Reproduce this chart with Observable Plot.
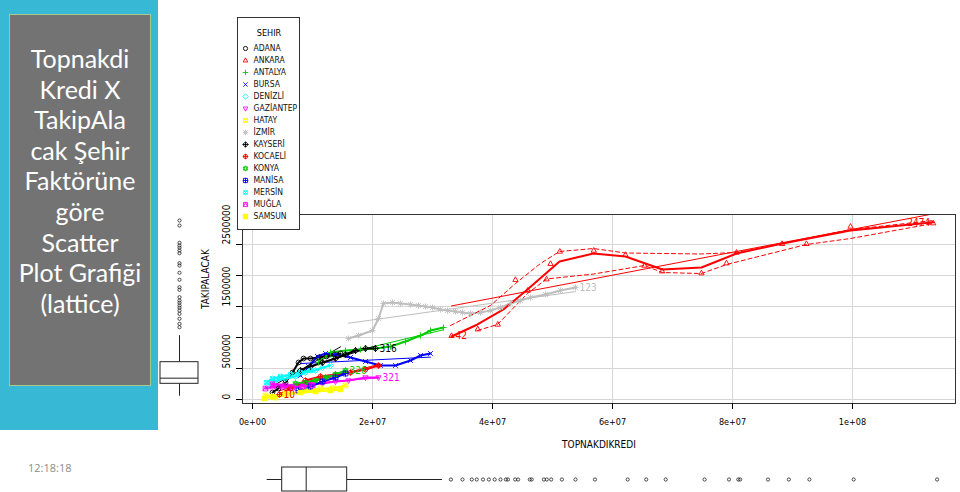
<!DOCTYPE html>
<html><head><meta charset="utf-8">
<script src="https://cdn.jsdelivr.net/npm/d3@7"></script>
<script src="https://cdn.jsdelivr.net/npm/@observablehq/plot@0.6"></script>
<style>
html,body{margin:0;padding:0;background:#fff;}
#stage{position:relative;width:960px;height:492px;overflow:hidden;}
#stage > *{position:absolute;}
#blue{left:0;top:0;width:158px;height:430px;background:#37b8d4;}
#gray{left:9px;top:14px;width:142px;height:372px;background:#737373;border:1px solid #a8c98c;box-sizing:border-box;}
#title{left:9px;top:43px;width:142px;text-align:center;color:#fff;font-family:Lato,"Open Sans",sans-serif;font-size:25px;line-height:30.6px;}
#time{left:28px;top:460px;font-size:11px;color:#8c8c8c;font-family:"Open Sans",sans-serif;}
#legend{left:237px;top:17px;width:63px;height:213px;border:1px solid #333;box-sizing:border-box;background:#fff;}
#legend svg{position:absolute;left:0;top:0;}
</style></head>
<body>
<div id="stage">
  <div id="mainplot" style="left:0;top:0"></div>
  <div id="blue"></div>
  <div id="gray"></div>
  <div id="title">Topnakdi<br>Kredi X<br>TakipAla<br>cak Şehir<br>Faktörüne<br>göre<br>Scatter<br>Plot Grafiği<br>(lattice)</div>
  <div id="time">12:18:18</div>
  <div id="ybox" style="left:160px;top:0"></div>
  <div id="xbox" style="left:0;top:460px"></div>
  <div id="legend"></div>
</div>
<script>
// ---------- data ----------
const CITIES = ["ADANA","ANKARA","ANTALYA","BURSA","DENİZLİ","GAZİANTEP","HATAY","İZMİR","KAYSERİ","KOCAELİ","KONYA","MANİSA","MERSİN","MUĞLA","SAMSUN"];
const CITY_COLORS = ["#000000","#ff0000","#00cd00","#0000ff","#00ffff","#ff00ff","#ffff00","#bebebe","#000000","#ff0000","#00cd00","#0000ff","#00ffff","#ff00ff","#ffff00"];

const ADANA = [[3.33e6,113e3],[4.33e6,177e3],[5.5e6,274e3],[6.67e6,435e3],[7.67e6,597e3],[8.5e6,661e3],[9.67e6,661e3],[11.0e6,677e3],[12.33e6,694e3],[13.67e6,726e3],[14.67e6,742e3]];
const ANKARA = [[33.17e6,1.027e6],[37.55e6,1.134e6],[40.88e6,1.21e6],[43.83e6,1.931e6],[45.88e6,1.758e6],[49.0e6,1.94e6],[49.67e6,2.189e6],[51.22e6,2.387e6],[56.88e6,2.403e6],[62.17e6,2.334e6],[65.33e6,2.161e6],[68.28e6,2.069e6],[74.83e6,2.037e6],[79.0e6,2.198e6],[80.67e6,2.371e6],[88.28e6,2.511e6],[92.33e6,2.511e6],[99.67e6,2.79e6],[113.45e6,2.844e6]];
const ANTALYA = [[11.0e6,597e3],[13.0e6,758e3],[15.5e6,790e3],[18.0e6,806e3],[20.5e6,823e3],[23.0e6,855e3],[25.5e6,935e3],[28.0e6,1032e3],[29.67e6,1113e3],[31.83e6,1161e3]];
const BURSA = [[8.0e6,387e3],[9.33e6,532e3],[10.83e6,694e3],[12.17e6,742e3],[13.83e6,726e3],[16.33e6,677e3],[18.83e6,613e3],[21.33e6,548e3],[23.83e6,548e3],[26.33e6,629e3],[28.0e6,710e3],[29.67e6,742e3]];
const DENIZLI = [[2.67e6,242e3],[3.83e6,306e3],[5.5e6,339e3],[7.17e6,371e3],[8.83e6,435e3],[10.5e6,468e3],[11.67e6,516e3],[13.0e6,548e3]];
const GAZIANTEP = [[3.33e6,258e3],[5.5e6,226e3],[7.17e6,226e3],[9.67e6,242e3],[11.67e6,258e3],[13.83e6,290e3],[16.0e6,306e3],[18.83e6,355e3],[21.0e6,355e3]];
const HATAY = [[2.17e6,65e3],[3.83e6,32e3],[6.0e6,81e3],[8.83e6,145e3],[11.33e6,177e3],[13.33e6,177e3],[15.5e6,226e3]];
const IZMIR = [[16.0e6,984e3],[17.67e6,1.032e6],[20.0e6,1.113e6],[21.0e6,1.306e6],[21.83e6,1.548e6],[23.33e6,1.565e6],[24.67e6,1.548e6],[26.33e6,1.532e6],[27.67e6,1.516e6],[28.83e6,1.5e6],[30.0e6,1.484e6],[31.33e6,1.452e6],[32.5e6,1.435e6],[33.83e6,1.419e6],[35.0e6,1.403e6],[36.33e6,1.387e6],[38.0e6,1.403e6],[39.67e6,1.435e6],[41.33e6,1.484e6],[43.0e6,1.548e6],[44.67e6,1.597e6],[46.33e6,1.645e6],[48.83e6,1.694e6],[51.33e6,1.758e6],[53.83e6,1.806e6]];
const KAYSERI = [[8.0e6,468e3],[9.67e6,532e3],[11.67e6,597e3],[13.83e6,661e3],[15.5e6,726e3],[17.17e6,790e3],[18.83e6,823e3],[20.5e6,823e3]];
const KOCAELI = [[4.5e6,81e3],[6.33e6,177e3],[8.83e6,306e3],[11.33e6,371e3],[13.83e6,403e3],[16.33e6,435e3],[18.83e6,484e3],[21.0e6,548e3]];
const KONYA = [[7.17e6,258e3],[8.83e6,274e3],[10.5e6,306e3],[12.17e6,355e3],[13.83e6,403e3],[15.5e6,468e3]];
const MANISA = [[7.67e6,145e3],[9.67e6,210e3],[11.67e6,290e3],[13.83e6,355e3],[15.5e6,419e3]];
const MERSIN = [[2.33e6,274e3],[3.33e6,339e3],[4.67e6,371e3],[6.33e6,403e3],[8.0e6,435e3],[9.67e6,468e3]];
const MUGLA = [[2.17e6,177e3],[3.33e6,210e3],[5.0e6,210e3],[6.67e6,194e3],[8.33e6,210e3],[10.0e6,226e3]];
const SAMSUN = [[2.0e6,16e3],[3.33e6,48e3],[5.5e6,97e3],[8.0e6,113e3],[10.5e6,129e3],[13.0e6,145e3],[14.67e6,161e3]];

// Ankara smoother and spread lines
const ANKARA_SMOOTH = [[33.17e6,1.016e6],[37.5e6,1.21e6],[41.83e6,1.452e6],[45.83e6,1.774e6],[51.17e6,2.226e6],[56.83e6,2.355e6],[62.17e6,2.306e6],[68.33e6,2.097e6],[74.83e6,2.129e6],[80.67e6,2.355e6],[88.33e6,2.516e6],[99.67e6,2.726e6],[113.5e6,2.86e6]];
const ANKARA_UPPER = [[33.0e6,1.194e6],[39.67e6,1.516e6],[43.83e6,1.871e6],[48.0e6,2.194e6],[51.17e6,2.387e6],[56.83e6,2.435e6],[62.17e6,2.363e6],[74.67e6,2.347e6],[80.67e6,2.371e6],[88.33e6,2.516e6],[99.67e6,2.742e6],[113.5e6,2.887e6]];
const ANKARA_LOWER = [[37.5e6,1.113e6],[40.83e6,1.21e6],[45.83e6,1.71e6],[49.0e6,1.944e6],[56.83e6,2.024e6],[65.33e6,2.161e6],[68.33e6,2.048e6],[74.83e6,2.032e6],[79.0e6,2.177e6],[92.33e6,2.5e6],[99.67e6,2.597e6],[113.5e6,2.839e6]];

// point identification labels
const ID_CITY  = ["ANKARA","ANKARA","İZMİR","KAYSERİ","GAZİANTEP","KONYA","KOCAELİ"];
const ID_INDEX = [18, 0, 24, 7, 8, 5, 0];
const ID_TEXT  = ["2474","42","123","316","321","326","10"];

// axes
const X_TICKS = [0, 2e7, 4e7, 6e7, 8e7, 1e8];
const X_TICK_LABELS = ["0e+00","2e+07","4e+07","6e+07","8e+07","1e+08"];
const Y_TICKS = [0, 5e5, 1e6, 1.5e6, 2e6, 2.5e6];
const Y_LABEL_TICKS = [0, 5e5, 1.5e6, 2.5e6];
const Y_TICK_LABELS = ["0","500000","1500000","2500000"];
const X_DOMAIN = [-1.667e6, 117.17e6];
const Y_DOMAIN = [-64.5e3, 2.984e6];

// marginal boxplots: [lower whisker, q1, median, q3, upper whisker]
const X_BOX_STATS = [2.45e6, 4.95e6, 8.95e6, 15.78e6, 31.67e6];
const X_OUTLIERS = [33.07e6,35.0e6,36.55e6,37.37e6,38.42e6,39.4e6,40.37e6,41.33e6,42.23e6,42.57e6,43.78e6,44.27e6,46.22e6,46.53e6,48.57e6,49.05e6,49.78e6,51.57e6,53.83e6,57.08e6,62.53e6,65.62e6,68.87e6,75.35e6,79.42e6,80.97e6,81.28e6,85.92e6,89.4e6,92.82e6,100.2e6,114.1e6];
const Y_BOX_STATS = [53e3, 253e3, 344e3, 602e3, 1.03e6];
const Y_OUTLIERS = [2.887e6,2.806e6,2.527e6,2.484e6,2.447e6,2.403e6,2.36e6,2.198e6,2.161e6,2.044e6,1.931e6,1.811e6,1.769e6,1.65e6,1.597e6,1.56e6,1.516e6,1.479e6,1.435e6,1.382e6,1.302e6,1.221e6,1.166e6];

// ---------- build tables ----------
const SERIES = {"ADANA":ADANA,"ANKARA":ANKARA,"ANTALYA":ANTALYA,"BURSA":BURSA,"DENİZLİ":DENIZLI,"GAZİANTEP":GAZIANTEP,"HATAY":HATAY,"İZMİR":IZMIR,"KAYSERİ":KAYSERI,"KOCAELİ":KOCAELI,"KONYA":KONYA,"MANİSA":MANISA,"MERSİN":MERSIN,"MUĞLA":MUGLA,"SAMSUN":SAMSUN};
const rows = CITIES.flatMap(c => SERIES[c].map(([x, y]) => ({city: c, x, y})));
const smoothRows = rows.filter(d => d.city !== "ANKARA")
  .concat(ANKARA_SMOOTH.map(([x, y]) => ({city: "ANKARA", x, y})));
const toRows = (arr, c) => arr.map(([x, y]) => ({city: c, x, y}));
const labelRows = ID_CITY.map((c, k) => ({city: c, x: SERIES[c][ID_INDEX[k]][0], y: SERIES[c][ID_INDEX[k]][1], text: ID_TEXT[k], left: ID_TEXT[k] === "2474"}));

// ---------- symbols (R pch 1..15) ----------
const S = f => ({draw(ctx, size) { const s = Math.sqrt(size / Math.PI); f(ctx, s); }});
function circ(c, s) { c.moveTo(s, 0); c.arc(0, 0, s, 0, 2 * Math.PI); }
function triUp(c, s) { c.moveTo(0, -1.25 * s); c.lineTo(1.1 * s, 0.7 * s); c.lineTo(-1.1 * s, 0.7 * s); c.closePath(); }
function triDown(c, s) { c.moveTo(0, 1.25 * s); c.lineTo(1.1 * s, -0.7 * s); c.lineTo(-1.1 * s, -0.7 * s); c.closePath(); }
function plus(c, s) { const k = 1.3 * s; c.moveTo(-k, 0); c.lineTo(k, 0); c.moveTo(0, -k); c.lineTo(0, k); }
function times(c, s) { const k = s; c.moveTo(-k, -k); c.lineTo(k, k); c.moveTo(-k, k); c.lineTo(k, -k); }
function sq(c, s) { c.moveTo(-s, -s); c.lineTo(s, -s); c.lineTo(s, s); c.lineTo(-s, s); c.closePath(); }
function dia(c, s) { const k = 1.3 * s; c.moveTo(0, -k); c.lineTo(k, 0); c.lineTo(0, k); c.lineTo(-k, 0); c.closePath(); }
const CITY_SYMBOLS = [
  S(circ), S(triUp), S(plus), S(times), S(dia), S(triDown),
  S((c, s) => { sq(c, s); times(c, s); }),
  S((c, s) => { plus(c, s); times(c, s); }),
  S((c, s) => { dia(c, s); plus(c, s); }),
  S((c, s) => { circ(c, s); plus(c, s); }),
  S((c, s) => { triUp(c, s); triDown(c, s); }),
  S((c, s) => { sq(c, s); plus(c, s); }),
  S((c, s) => { circ(c, s); times(c, s); }),
  S((c, s) => { sq(c, s); c.moveTo(-s, s); c.lineTo(0, -s); c.lineTo(s, s); }),
  S(sq)
];
const FILLED = new Set(["SAMSUN"]);

const FONT = '"Liberation Sans Narrow","DejaVu Sans Condensed","Liberation Sans",Arial,sans-serif';
const colorScale = {domain: CITIES, range: CITY_COLORS};
const symbolScale = {domain: CITIES, range: CITY_SYMBOLS};

// ---------- main scatter ----------
const main = Plot.plot({
  width: 960, height: 492,
  marginLeft: 242, marginRight: 5, marginTop: 214, marginBottom: 89,
  x: {domain: X_DOMAIN, axis: null},
  y: {domain: Y_DOMAIN, axis: null},
  color: colorScale, symbol: symbolScale,
  style: {fontFamily: FONT, fontSize: "10px", background: "transparent", overflow: "visible"},
  marks: [
    Plot.gridX({ticks: X_TICKS, stroke: "#d6d6d6", strokeOpacity: 1}),
    Plot.gridY({ticks: Y_TICKS, stroke: "#d6d6d6", strokeOpacity: 1}),
    Plot.linearRegressionY(rows, {x: "x", y: "y", z: "city", stroke: "city", ci: 0, strokeWidth: 1, clip: true}),
    Plot.line(smoothRows, {x: "x", y: "y", z: "city", stroke: "city", strokeWidth: 2, clip: true}),
    Plot.line(toRows(ANKARA_UPPER, "ANKARA"), {x: "x", y: "y", stroke: "city", strokeWidth: 1, strokeDasharray: "4,3"}),
    Plot.line(toRows(ANKARA_LOWER, "ANKARA"), {x: "x", y: "y", stroke: "city", strokeWidth: 1, strokeDasharray: "4,3"}),
    Plot.dot(rows.filter(d => !FILLED.has(d.city)), {x: "x", y: "y", symbol: "city", stroke: "city", fill: "none", r: 2.4, strokeWidth: 0.9}),
    Plot.dot(rows.filter(d => FILLED.has(d.city)), {x: "x", y: "y", symbol: "city", fill: "city", stroke: "city", r: 2.1}),
    Plot.text(labelRows.filter(d => !d.left), {x: "x", y: "y", text: "text", fill: "city", textAnchor: "start", dx: 4, fontSize: 10}),
    Plot.text(labelRows.filter(d => d.left), {x: "x", y: "y", text: "text", fill: "city", textAnchor: "end", dx: -3, fontSize: 10}),
    Plot.frame({stroke: "#333"}),
    Plot.axisX({ticks: X_TICKS, tickFormat: d => X_TICK_LABELS[X_TICKS.indexOf(d)], tickSize: 6, tickPadding: 9, fontSize: 9, label: null}),
    Plot.axisY({ticks: Y_TICKS, tickSize: 6, tickFormat: () => "", label: null}),
    Plot.text(Y_LABEL_TICKS, {y: d => d, text: (d, i) => Y_TICK_LABELS[i], frameAnchor: "left", dx: -16, rotate: -90, fontSize: 10}),
    Plot.text(["TAKIPALACAK"], {frameAnchor: "left", dx: -37, rotate: -90, fontSize: 10}),
    Plot.text(["TOPNAKDIKREDI"], {frameAnchor: "bottom", dy: 44, fontSize: 10})
  ]
});
document.getElementById("mainplot").appendChild(main);

// ---------- left (y) boxplot ----------
const yBox = Plot.plot({
  width: 38, height: 492, marginLeft: 0, marginRight: 0, marginTop: 214, marginBottom: 89,
  y: {domain: Y_DOMAIN, axis: null},
  x: {type: "band", domain: ["TAKIPALACAK"], padding: 0, axis: null},
  style: {background: "transparent", overflow: "visible"},
  marks: [
    Plot.ruleX([Y_BOX_STATS], {x: () => "TAKIPALACAK", y1: d => d[0], y2: d => d[1], stroke: "#222"}),
    Plot.ruleX([Y_BOX_STATS], {x: () => "TAKIPALACAK", y1: d => d[3], y2: d => d[4], stroke: "#222"}),
    Plot.barY([Y_BOX_STATS], {x: () => "TAKIPALACAK", y1: d => d[1], y2: d => d[3], fill: "white", stroke: "#222"}),
    Plot.tickY([Y_BOX_STATS], {x: () => "TAKIPALACAK", y: d => d[2], stroke: "#222"}),
    Plot.dot(Y_OUTLIERS, {x: () => "TAKIPALACAK", y: d => d, r: 1.6, stroke: "#222", fill: "none", strokeWidth: 0.8})
  ]
});
document.getElementById("ybox").appendChild(yBox);

// ---------- bottom (x) boxplot ----------
const xBox = Plot.plot({
  width: 960, height: 32, marginLeft: 242, marginRight: 5, marginTop: 7, marginBottom: 1,
  x: {domain: X_DOMAIN, axis: null},
  y: {type: "band", domain: ["TOPNAKDIKREDI"], padding: 0, axis: null},
  style: {background: "transparent", overflow: "visible"},
  marks: [
    Plot.ruleY([X_BOX_STATS], {y: () => "TOPNAKDIKREDI", x1: d => d[0], x2: d => d[1], stroke: "#222"}),
    Plot.ruleY([X_BOX_STATS], {y: () => "TOPNAKDIKREDI", x1: d => d[3], x2: d => d[4], stroke: "#222"}),
    Plot.barX([X_BOX_STATS], {y: () => "TOPNAKDIKREDI", x1: d => d[1], x2: d => d[3], fill: "white", stroke: "#222"}),
    Plot.tickX([X_BOX_STATS], {y: () => "TOPNAKDIKREDI", x: d => d[2], stroke: "#222"}),
    Plot.dot(X_OUTLIERS, {y: () => "TOPNAKDIKREDI", x: d => d, r: 1.6, stroke: "#222", fill: "none", strokeWidth: 0.8})
  ]
});
document.getElementById("xbox").appendChild(xBox);

// ---------- legend ----------
const legend = Plot.plot({
  width: 61, height: 211, marginLeft: 0, marginRight: 0, marginTop: 27, marginBottom: 10,
  x: {domain: [0, 1], axis: null},
  y: {type: "point", domain: CITIES, padding: 0, axis: null},
  color: colorScale, symbol: symbolScale,
  style: {fontFamily: FONT, fontSize: "9px", background: "transparent", overflow: "visible"},
  marks: [
    Plot.text(["SEHIR"], {frameAnchor: "top", dy: -16, fontSize: 9}),
    Plot.dot(CITIES.filter(c => !FILLED.has(c)), {y: d => d, symbol: d => d, stroke: d => d, fill: "none", frameAnchor: "left", dx: 7, r: 2.1, strokeWidth: 0.9}),
    Plot.dot(CITIES.filter(c => FILLED.has(c)), {y: d => d, symbol: d => d, stroke: d => d, fill: d => d, frameAnchor: "left", dx: 7, r: 1.9}),
    Plot.text(CITIES, {y: d => d, text: d => d, frameAnchor: "left", dx: 15, textAnchor: "start", fontSize: 8.5, fill: "#111"})
  ]
});
document.getElementById("legend").appendChild(legend);
</script>
</body></html>
